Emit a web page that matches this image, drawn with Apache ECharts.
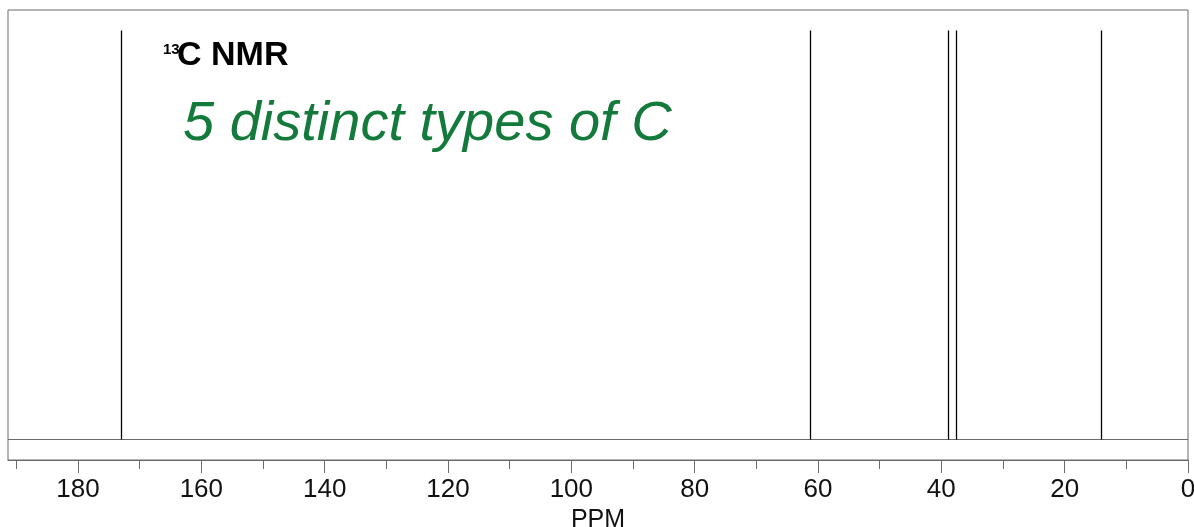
<!DOCTYPE html>
<html>
<head>
<meta charset="utf-8">
<script src="https://cdn.jsdelivr.net/npm/echarts@6/dist/echarts.min.js"></script>
<style>html,body{margin:0;padding:0;background:#fff}#c{width:1194px;height:527px}</style>
</head>
<body>
<div id="c"></div>
<script>
// Data
const peakShifts = [173.0, 61.2, 38.9, 37.6, 14.0];   // ppm
const peakHeights = [1, 1, 1, 1, 1];                  // relative intensity
const majorTicks = [0, 20, 40, 60, 80, 100, 120, 140, 160, 180];
const minorTicks = [10, 30, 50, 70, 90, 110, 130, 150, 170, 190];
const ppmMax = 191.35;
const titleSup = '13';
const titleMain = 'C NMR';
const note = '5 distinct types of C';

const chart = echarts.init(document.getElementById('c'), null, {renderer: 'canvas'});
const FONT = 'Liberation Sans, Arial, Helvetica, sans-serif';
const grey = '#6b6b6b';
const PLOT_H = 450;

const peakLines = peakShifts.map((x, i) => [
  {coord: [x, 0]}, {coord: [x, peakHeights[i]]}
]);

function tickAxis(values, len) {
  return {
    type: 'value', min: 0, max: ppmMax, inverse: true, interval: 10, position: 'top', offset: -PLOT_H,
    axisLine: {show: false, onZero: false},
    axisTick: {show: true, inside: true, customValues: values, length: len, lineStyle: {color: grey, width: 1}},
    axisLabel: {show: false},
    splitLine: {show: false}
  };
}

chart.setOption({
  animation: false,
  backgroundColor: '#fff',
  grid: {left: 8, right: 6, top: 10, bottom: 67, show: true, borderColor: grey, borderWidth: 1,
         backgroundColor: 'transparent', containLabel: false, outerBoundsMode: 'none'},
  xAxis: [{
    type: 'value', min: 0, max: ppmMax, inverse: true, interval: 20, position: 'bottom',
    name: 'PPM', nameLocation: 'middle', nameGap: 40,
    nameTextStyle: {fontFamily: FONT, fontSize: 25, color: '#111'},
    axisLine: {show: true, onZero: false, lineStyle: {color: grey, width: 1}},
    axisTick: {show: false},
    axisLabel: {show: true, customValues: majorTicks, margin: 17, fontFamily: FONT, fontSize: 26, color: '#111'},
    splitLine: {show: false}
  }, tickAxis(minorTicks, 9), tickAxis(majorTicks, 13)],
  yAxis: {
    type: 'value', min: -0.05, max: 1.05, show: false, splitLine: {show: false}
  },
  series: [{
    type: 'scatter', data: [], symbolSize: 0,
    markLine: {
      silent: true, symbol: ['none', 'none'], animation: false,
      label: {show: false},
      lineStyle: {color: grey, width: 1, type: 'solid'},
      data: [{yAxis: 0}]
    }
  }, {
    type: 'scatter', data: [], symbolSize: 0,
    markLine: {
      silent: true, symbol: ['none', 'none'], animation: false,
      label: {show: false},
      lineStyle: {color: '#000', width: 1.3, type: 'solid'},
      emphasis: {disabled: true},
      data: peakLines
    }
  }],
  graphic: [
    {type: 'text', left: 163, top: 42, style: {text: titleSup, fontFamily: FONT, fontWeight: 'bold', fontSize: 15, fill: '#000'}},
    {type: 'text', left: 177, top: 39, style: {text: titleMain, fontFamily: FONT, fontWeight: 'bold', fontSize: 34, fill: '#000'}},
    {type: 'text', left: 183, top: 96, style: {text: note, fontFamily: FONT, fontStyle: 'italic', fontSize: 56, fill: '#137a3c'}}
  ]
});
</script>
</body>
</html>
